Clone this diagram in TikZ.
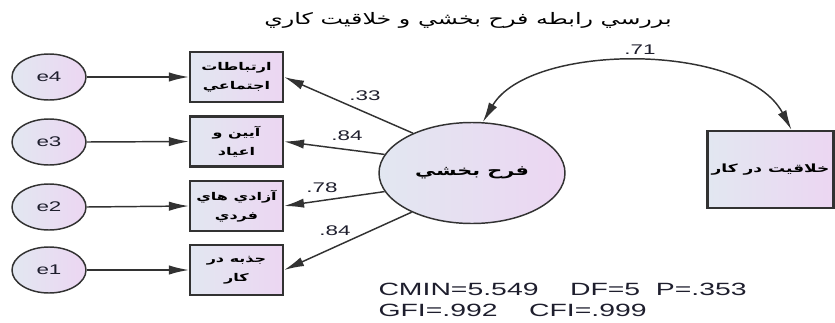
\documentclass[tikz,border=0pt]{standalone}
\usepackage{fontspec}
\setmainfont{Liberation Sans}[FakeStretch=1.6]
\newfontfamily\arabicfont[Script=Arabic,FakeStretch=1.5]{DejaVu Sans}
\TeXXeTstate=1
\usetikzlibrary{arrows.meta,shapes.geometric}

\definecolor{lblue}{RGB}{226,231,241}
\definecolor{lpink}{RGB}{236,214,242}
\definecolor{lineg}{RGB}{50,50,50}
\definecolor{txtc}{RGB}{30,30,45}

\tikzset{every picture/.style={line width=0.75pt}}
\tikzset{
  grad/.style={left color=lblue, right color=lpink},
  errell/.style={ellipse, draw=lineg, line width=1.1pt, grad, minimum width=55.5pt, minimum height=34.5pt, inner sep=0pt, font=\fontsize{10.5}{12}\selectfont, text=txtc},
  obsbox/.style={rectangle, draw=lineg, line width=1.6pt, grad, minimum width=69.75pt, minimum height=37.5pt, inner sep=0pt, align=center, font=\arabicfont\bfseries\fontsize{8}{14}\selectfont},
  latell/.style={ellipse, draw=lineg, line width=1.1pt, grad, minimum width=139.5pt, minimum height=75.75pt, inner sep=0pt, font=\arabicfont\bfseries\fontsize{10.4}{14}\selectfont},
  pth/.style={draw=lineg, line width=1.1pt, -{Latex[length=15pt,width=7pt]}},
  wlab/.style={font=\fontsize{10.5}{12}\selectfont, text=txtc, inner sep=0.75pt}
}

\begin{document}
\begin{tikzpicture}[x=0.75pt,y=0.75pt,yscale=-1,xscale=1]
%set diagram size to the picture: 835 x 322
\clip (0,0) rectangle (835,322);

% Text Node
\draw (468,20) node [font=\arabicfont\fontsize{11.9}{14}\selectfont] (ttl) {\beginR بررسي رابطه فرح بخشي و خلاقيت كاري\endR};

% Error Ellipses
\draw (49,77) node [errell] (e4) {e4};
\draw (49,142) node [errell] (e3) {e3};
\draw (49,207) node [errell] (e2) {e2};
\draw (49,270) node [errell] (e1) {e1};

% Observed Boxes
\draw (236.5,77) node [obsbox] (b4) {\beginR ارتباطات\endR\\\beginR اجتماعي\endR};
\draw (236.5,141.5) node [obsbox] (b3) {\beginR آيين و\endR\\\beginR اعياد\endR};
\draw (236.5,206) node [obsbox] (b2) {\beginR آزادي هاي\endR\\\beginR فردي\endR};
\draw (236.5,270) node [obsbox] (b1) {\beginR جذبه در\endR\\\beginR كار\endR};

% Latent Ellipse
\draw (472,173) node [latell] (fb) {\beginR فرح بخشي\endR};

% Right Box
\draw (770.5,169.5) node [obsbox, minimum width=94.5pt, minimum height=57.75pt, font=\arabicfont\bfseries\fontsize{8.5}{14}\selectfont] (kh) {\beginR خلاقيت در كار\endR};

%Straight Lines
\draw [pth] (e4.east) -- (b4.west);
\draw [pth] (e3.east) -- (b3.west);
\draw [pth] (e2.east) -- (b2.west);
\draw [pth] (e1.east) -- (b1.west);

%Straight Lines
\draw [pth] (fb.146) -- (b4.east);
\draw [pth] (fb.168) -- (b3.east);
\draw [pth] (fb.192) -- (b2.east);
\draw [pth] (fb.213) -- (b1.east);

%Curve Lines
\draw [draw=lineg, line width=1.1pt, {Latex[length=15pt,width=7pt]}-{Latex[length=15pt,width=7pt]}] (fb.78) .. controls (530,42) and (745,42) .. (kh.62);

% Text Node
\draw (365,96) node [wlab] (l4) {.33};
\draw (347,136) node [wlab] (l3) {.84};
\draw (322,188) node [wlab] (l2) {.78};
\draw (335,231) node [wlab] (l1) {.84};
\draw (640,50) node [wlab] (l0) {.71};

% Text Node
\draw (378,300) node [anchor=west, align=left, inner sep=0pt, font=\fontsize{13.3}{16}\selectfont, text=txtc] (fit) {CMIN=5.549\ \ \ \ DF=5\ \ P=.353\\GFI=.992\ \ \ \ CFI=.999};

\end{tikzpicture}
\end{document}
